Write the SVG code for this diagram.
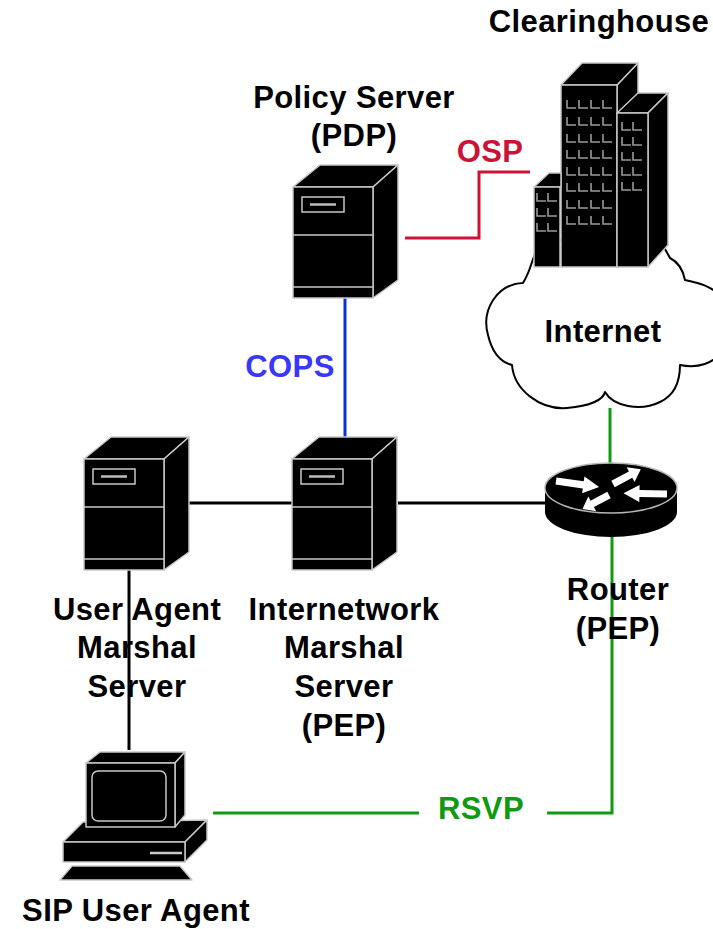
<svg xmlns="http://www.w3.org/2000/svg" xmlns:xlink="http://www.w3.org/1999/xlink" width="713" height="929" viewBox="0 0 713 929">
  <style>
    .lbl { font-family: "Liberation Sans", Arial, sans-serif; font-weight: bold; font-size: 31px; letter-spacing: 0.4px; fill: #000; text-anchor: middle; }
    .body { fill: #000; stroke: #c8c8c8; stroke-width: 1.5; stroke-linejoin: round; }
    .edge { fill: none; stroke: #c8c8c8; stroke-width: 1.5; }
    .win { fill: none; stroke: #9a9a9a; stroke-width: 1.6; }
    .wire { fill: none; stroke-width: 3; }
    .black { stroke: #000; }
    .red { stroke: #cc1236; }
    .blue { stroke: #0a32d0; }
    .green { stroke: #119a11; }
  </style>
  <defs>
    <!-- tower server, 105 x 133 -->
    <g id="server">
      <polygon class="body" points="0,22 27,0 105,0 80,22"/>
      <polygon class="body" points="80,22 105,0 105,115 80,133"/>
      <rect class="body" x="0" y="22" width="80" height="111"/>
      <line class="edge" x1="0" y1="70" x2="80" y2="70"/>
      <line class="edge" x1="0" y1="122" x2="80" y2="122"/>
      <rect class="edge" x="9" y="32" width="42" height="15"/>
      <line x1="17" y1="39.5" x2="43" y2="39.5" stroke="#bdbdbd" stroke-width="2.5"/>
    </g>
    <!-- window mark on the building -->
    <path id="w" class="win" d="M0,0 V8 H9"/>
    <!-- router arrow, pointing along +x -->
    <polygon id="arr" fill="#fff" points="0,-3 19,-3 19,-7 30,0 19,7 19,3 0,3"/>
  </defs>

  <!-- connectors -->
  <g id="connectors">
    <polyline class="wire red" points="405,238 479,238 479,172 530,172"/>
    <line class="wire blue" x1="345" y1="297" x2="345" y2="437"/>
    <line class="wire black" x1="188" y1="503" x2="292" y2="503"/>
    <line class="wire black" x1="398" y1="503" x2="546" y2="503"/>
    <line class="wire black" x1="129" y1="570" x2="129" y2="750"/>
    <line class="wire green" x1="610" y1="408" x2="610" y2="464"/>
    <polyline class="wire green" points="547,813 612,813 612,536"/>
    <line class="wire green" x1="213" y1="813" x2="419" y2="813"/>
  </g>

  <!-- connector labels -->
  <text class="lbl" x="490" y="162" style="fill:#cc1236">OSP</text>
  <text class="lbl" x="290" y="377" style="fill:#3838f5">COPS</text>
  <text class="lbl" x="481" y="819" style="fill:#119a11">RSVP</text>

  <!-- Internet cloud -->
  <g id="internet">
    <path fill="#fff" stroke="#000" stroke-width="2" stroke-linejoin="round"
      d="M532,262 Q528,275 523,283 C497,284 481,310 488,335 C492,352 500,362 512,365
         C514,390 540,410 567,408 C590,406 603,400 605,392
         C613,406 640,412 660,402 C675,395 680,380 680,365
         C695,368 716,366 725,345 L725,300 C712,285 695,282 685,280
         C683,270 678,262 670,258 L660,240 L540,240 Z"/>
    <text class="lbl" x="603" y="342">Internet</text>
  </g>

  <!-- Clearinghouse buildings -->
  <g id="clearinghouse">
    <!-- tall tower -->
    <polygon class="body" points="617,85 638,63 638,245 617,267"/>
    <polygon class="body" points="561,85 582,63 638,63 617,85"/>
    <rect class="body" x="561" y="85" width="56" height="182"/>
    <!-- right tower -->
    <polygon class="body" points="617,113 638,93 668,93 648,113"/>
    <polygon class="body" points="648,113 668,93 668,245 648,267"/>
    <rect class="body" x="617" y="113" width="31" height="154"/>
    <!-- small left tower -->
    <polygon class="body" points="534,187 549,173 561,173 561,187"/>
    <rect class="body" x="534" y="187" width="26" height="80"/>
    <!-- windows -->
    <g>
      <use xlink:href="#w" x="567" y="100"/><use xlink:href="#w" x="579" y="100"/><use xlink:href="#w" x="591" y="100"/><use xlink:href="#w" x="603" y="100"/>
      <use xlink:href="#w" x="567" y="117"/><use xlink:href="#w" x="579" y="117"/><use xlink:href="#w" x="591" y="117"/><use xlink:href="#w" x="603" y="117"/>
      <use xlink:href="#w" x="567" y="134"/><use xlink:href="#w" x="579" y="134"/><use xlink:href="#w" x="591" y="134"/><use xlink:href="#w" x="603" y="134"/>
      <use xlink:href="#w" x="567" y="150"/><use xlink:href="#w" x="579" y="150"/><use xlink:href="#w" x="591" y="150"/><use xlink:href="#w" x="603" y="150"/>
      <use xlink:href="#w" x="567" y="167"/><use xlink:href="#w" x="579" y="167"/><use xlink:href="#w" x="591" y="167"/><use xlink:href="#w" x="603" y="167"/>
      <use xlink:href="#w" x="567" y="183"/><use xlink:href="#w" x="579" y="183"/><use xlink:href="#w" x="591" y="183"/><use xlink:href="#w" x="603" y="183"/>
      <use xlink:href="#w" x="567" y="200"/><use xlink:href="#w" x="579" y="200"/><use xlink:href="#w" x="591" y="200"/><use xlink:href="#w" x="603" y="200"/>
      <use xlink:href="#w" x="567" y="216"/><use xlink:href="#w" x="579" y="216"/><use xlink:href="#w" x="591" y="216"/><use xlink:href="#w" x="603" y="216"/>
      <use xlink:href="#w" x="622" y="122"/><use xlink:href="#w" x="633" y="122"/>
      <use xlink:href="#w" x="622" y="137"/><use xlink:href="#w" x="633" y="137"/>
      <use xlink:href="#w" x="622" y="152"/><use xlink:href="#w" x="633" y="152"/>
      <use xlink:href="#w" x="622" y="167"/><use xlink:href="#w" x="633" y="167"/>
      <use xlink:href="#w" x="622" y="182"/><use xlink:href="#w" x="633" y="182"/>
      <use xlink:href="#w" x="537" y="193"/><use xlink:href="#w" x="548" y="193"/>
      <use xlink:href="#w" x="537" y="208"/><use xlink:href="#w" x="548" y="208"/>
      <use xlink:href="#w" x="537" y="223"/><use xlink:href="#w" x="548" y="223"/>
    </g>
    <text class="lbl" x="599" y="32">Clearinghouse</text>
  </g>

  <!-- Policy server -->
  <g id="policy-server">
    <use xlink:href="#server" x="293" y="165"/>
    <text class="lbl" x="354" y="108">Policy Server</text>
    <text class="lbl" x="354" y="146">(PDP)</text>
  </g>

  <!-- User agent marshal server -->
  <g id="ua-marshal">
    <use xlink:href="#server" x="84" y="437"/>
    <text class="lbl" x="137" y="620">User Agent</text>
    <text class="lbl" x="137" y="658">Marshal</text>
    <text class="lbl" x="137" y="697">Server</text>
  </g>

  <!-- Internetwork marshal server -->
  <g id="inet-marshal">
    <use xlink:href="#server" x="292" y="437"/>
    <text class="lbl" x="344" y="620">Internetwork</text>
    <text class="lbl" x="344" y="658">Marshal</text>
    <text class="lbl" x="344" y="697">Server</text>
    <text class="lbl" x="344" y="736">(PEP)</text>
  </g>

  <!-- Router -->
  <g id="router">
    <path fill="#000" d="M545,488 V512 A66,25 0 0 0 677,512 V488 Z"/>
    <ellipse cx="611" cy="488" rx="66" ry="25" fill="#000" stroke="#b5b5b5" stroke-width="1.5"/>
    <use xlink:href="#arr" transform="translate(556,481) rotate(8) scale(1.45,1.2)"/>
    <use xlink:href="#arr" transform="translate(613,484) rotate(-28) scale(1.05,1.2)"/>
    <use xlink:href="#arr" transform="translate(667,494) rotate(181) scale(1.45,1.2)"/>
    <use xlink:href="#arr" transform="translate(609,495) rotate(152) scale(1,1.2)"/>
    <text class="lbl" x="618" y="600">Router</text>
    <text class="lbl" x="618" y="639">(PEP)</text>
  </g>

  <!-- SIP user agent workstation -->
  <g id="sip-ua">
    <polygon class="body" points="72,866 180,866 192,880 60,880"/>
    <polygon class="body" points="63,842 83,822 207,820 185,842"/>
    <polygon class="body" points="185,842 207,820 207,840 185,862"/>
    <rect class="body" x="63" y="842" width="122" height="20"/>
    <line x1="150" y1="853" x2="182" y2="853" stroke="#c8c8c8" stroke-width="2.5"/>
    <polygon class="body" points="86,763 100,752 185,752 175,763"/>
    <polygon class="body" points="175,763 185,752 185,815 175,827"/>
    <rect class="body" x="86" y="763" width="89" height="64"/>
    <rect class="edge" x="92" y="771" width="74" height="50" rx="6"/>
    <text class="lbl" x="136" y="921">SIP User Agent</text>
  </g>
</svg>
